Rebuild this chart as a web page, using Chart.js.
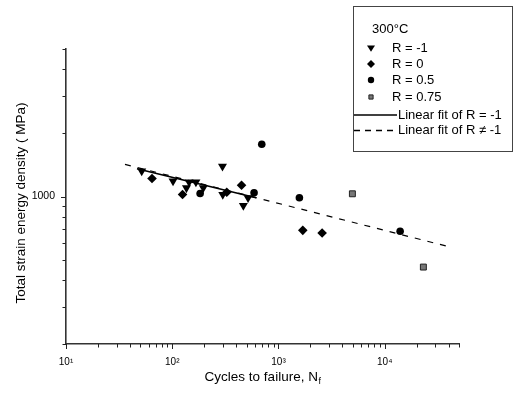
<!DOCTYPE html>
<html><head><meta charset="utf-8">
<script src="https://cdn.jsdelivr.net/npm/chart.js@4.4.1/dist/chart.umd.min.js"></script>
<style>html,body{margin:0;padding:0;background:#fff;}#wrap{width:517px;height:396px;}</style>
</head><body><div id="wrap"><canvas id="c" width="517" height="396"></canvas></div>
<script>
const FONT = '"Liberation Sans", Arial, Helvetica, sans-serif';

// ---- data (cycles to failure N_f, total strain energy density MPa) ----
const nRm1  = [51.6, 101.7, 136, 144, 167, 196, 297, 299, 467, 517];
const wRm1  = [1319, 1183, 1098, 1170, 1170, 1100, 1389, 1022, 906, 986];
const nR0   = [64.5, 125, 326, 449, 1693, 2574];
const wR0   = [1218, 1022, 1048, 1131, 691, 672];
const nR05  = [183, 589, 696, 1573, 13960];
const wR05  = [1033, 1041, 1768, 986, 684];
const nR075 = [4960, 23100];
const wR075 = [1030, 463];
const fitRm1N = [46.6, 615];
const fitRm1W = [1355, 986];
const fitAllN = [35.9, 43100];
const fitAllW = [1420, 573];

const seriesLabels = ['R = -1', 'R = 0', 'R = 0.5', 'R = 0.75', 'Linear fit of R = -1', 'Linear fit of R \u2260 -1'];
const legendTitle = '300\u00B0C';

const xTickValues = [10,20,30,40,50,60,70,80,90,100,200,300,400,500,600,700,800,900,
  1000,2000,3000,4000,5000,6000,7000,8000,9000,10000,20000,30000,40000,50000];
const xMajor = [10, 100, 1000, 10000];
const xMajorLabels = ['10\u00B9', '10\u00B2', '10\u00B3', '10\u2074'];
const yTickValues = [200,300,400,500,600,700,800,900,1000,2000,3000,4000,5000];
const yMajor = [1000];
const yMajorLabels = ['1000'];

const xTitle = 'Cycles to failure, N';
const xTitleSub = 'f';
const yTitle = 'Total strain energy density ( MPa)';

function pts(xs, ys) { return xs.map((x, i) => ({x: x, y: ys[i]})); }

function drawMarker(ctx, kind, x, y, s) {
  ctx.beginPath();
  if (kind === 'tri') {
    ctx.moveTo(x - s, y - s * 0.6); ctx.lineTo(x + s, y - s * 0.6); ctx.lineTo(x, y + s * 0.95);
    ctx.closePath(); ctx.fillStyle = '#000'; ctx.fill();
  } else if (kind === 'dia') {
    ctx.moveTo(x, y - s); ctx.lineTo(x + s, y); ctx.lineTo(x, y + s); ctx.lineTo(x - s, y);
    ctx.closePath(); ctx.fillStyle = '#000'; ctx.fill();
  } else if (kind === 'cir') {
    ctx.arc(x, y, s * 0.8, 0, Math.PI * 2); ctx.fillStyle = '#000'; ctx.fill();
  } else {
    ctx.rect(x - s * 0.6, y - s * 0.6, s * 1.2, s * 1.2);
    ctx.fillStyle = '#777'; ctx.fill(); ctx.strokeStyle = '#222'; ctx.lineWidth = 1; ctx.stroke();
  }
}

const decor = {
  id: 'decor',
  afterDraw(chart) {
    const ctx = chart.ctx;
    const ca = chart.chartArea;
    const sx = chart.scales.x, sy = chart.scales.y;
    ctx.save();
    // tick marks (outward)
    ctx.strokeStyle = '#222';
    ctx.lineWidth = 1;
    ctx.beginPath();
    xTickValues.forEach(v => {
      const px = Math.round(sx.getPixelForValue(v)) + 0.5;
      const len = xMajor.includes(v) ? 5 : 3.5;
      ctx.moveTo(px, ca.bottom); ctx.lineTo(px, ca.bottom + len);
    });
    yTickValues.forEach(v => {
      const py = Math.round(sy.getPixelForValue(v)) + 0.5;
      const len = yMajor.includes(v) ? 5 : 3.5;
      ctx.moveTo(ca.left, py); ctx.lineTo(ca.left - len, py);
    });
    ctx.stroke();

    ctx.fillStyle = '#000';
    // x title with subscript
    ctx.font = '13.5px ' + FONT;
    ctx.textBaseline = 'middle';
    ctx.textAlign = 'left';
    const w1 = ctx.measureText(xTitle).width;
    ctx.font = '9px ' + FONT;
    const w2 = ctx.measureText(xTitleSub).width;
    const cx = (ca.left + ca.right) / 2;
    const x0 = cx - (w1 + w2) / 2;
    ctx.font = '13.5px ' + FONT;
    ctx.fillText(xTitle, x0, 377);
    ctx.font = '9px ' + FONT;
    ctx.fillText(xTitleSub, x0 + w1 + 0.5, 382);
    // y title
    ctx.save();
    ctx.translate(21, 203);
    ctx.rotate(-Math.PI / 2);
    ctx.textAlign = 'center';
    ctx.font = '13.5px ' + FONT;
    ctx.fillText(yTitle, 0, 0);
    ctx.restore();
    // legend box
    ctx.strokeStyle = '#444';
    ctx.lineWidth = 1;
    ctx.strokeRect(353.5, 6.5, 159, 145);
    ctx.font = '13px ' + FONT;
    ctx.textAlign = 'left';
    ctx.textBaseline = 'middle';
    ctx.fillStyle = '#000';
    ctx.fillText(legendTitle, 372, 29.5);
    const kinds = ['tri', 'dia', 'cir', 'sq'];
    const ys = [48, 64, 80, 97];
    for (let i = 0; i < 4; i++) {
      drawMarker(ctx, kinds[i], 371, ys[i], kinds[i] === 'sq' ? 3.5 : 4);
      ctx.fillStyle = '#000';
      ctx.fillText(seriesLabels[i], 392, ys[i]);
    }
    ctx.strokeStyle = '#000';
    ctx.lineWidth = 1.3;
    ctx.beginPath(); ctx.moveTo(354, 115); ctx.lineTo(397, 115); ctx.stroke();
    ctx.fillText(seriesLabels[4], 398, 115);
    ctx.setLineDash([6, 5]);
    ctx.beginPath(); ctx.moveTo(354, 130.5); ctx.lineTo(397, 130.5); ctx.stroke();
    ctx.setLineDash([]);
    ctx.fillText(seriesLabels[5], 398, 130.5);
    ctx.restore();
  }
};

new Chart(document.getElementById('c'), {
  type: 'scatter',
  data: {
    datasets: [
      {label: seriesLabels[0], data: pts(nRm1, wRm1), pointStyle: 'triangle', rotation: 180, pointRadius: 5.2,
       backgroundColor: '#000', borderColor: '#000', borderWidth: 0},
      {label: seriesLabels[1], data: pts(nR0, wR0), pointStyle: 'rectRot', pointRadius: 4.8,
       backgroundColor: '#000', borderColor: '#000', borderWidth: 0},
      {label: seriesLabels[2], data: pts(nR05, wR05), pointStyle: 'circle', pointRadius: 3.8,
       backgroundColor: '#000', borderColor: '#000', borderWidth: 0},
      {label: seriesLabels[3], data: pts(nR075, wR075), pointStyle: 'rect', pointRadius: 4.2,
       backgroundColor: '#777', borderColor: '#222', borderWidth: 1},
      {label: seriesLabels[4], data: pts(fitRm1N, fitRm1W), showLine: true, pointRadius: 0,
       borderColor: '#000', borderWidth: 1.6, fill: false},
      {label: seriesLabels[5], data: pts(fitAllN, fitAllW), showLine: true, pointRadius: 0,
       borderColor: '#000', borderWidth: 1.2, borderDash: [6, 7], fill: false}
    ]
  },
  options: {
    responsive: false,
    animation: false,
    devicePixelRatio: 1,
    layout: {padding: {top: 49, right: 58, left: 0, bottom: 0}},
    plugins: {legend: {display: false}, tooltip: {enabled: false}},
    scales: {
      x: {
        type: 'logarithmic', position: 'bottom', min: 10, max: 50000,
        afterFit(s) { s.height = 52; },
        afterBuildTicks(s) { s.ticks = xTickValues.map(v => ({value: v, major: xMajor.includes(v)})); },
        ticks: {
          autoSkip: false, maxRotation: 0, minRotation: 0, padding: 12, color: '#000',
          font: {family: FONT, size: 10},
          callback(v, i) { const k = xMajor.indexOf(xTickValues[i]); return k >= 0 ? xMajorLabels[k] : ''; }
        },
        grid: {drawOnChartArea: false, drawTicks: false},
        border: {display: true, color: '#333', width: 1.6},
        title: {display: false}
      },
      y: {
        type: 'logarithmic', position: 'left', min: 200, max: 5000,
        afterFit(s) { s.width = 66; },
        afterBuildTicks(s) { s.ticks = yTickValues.map(v => ({value: v, major: yMajor.includes(v)})); },
        ticks: {
          autoSkip: false, padding: 11, color: '#000',
          font: {family: FONT, size: 10.5},
          callback(v, i) { const k = yMajor.indexOf(yTickValues[i]); return k >= 0 ? yMajorLabels[k] : ''; }
        },
        grid: {drawOnChartArea: false, drawTicks: false},
        border: {display: true, color: '#333', width: 1.6},
        title: {display: false}
      }
    }
  },
  plugins: [decor]
});
</script>
</body></html>
